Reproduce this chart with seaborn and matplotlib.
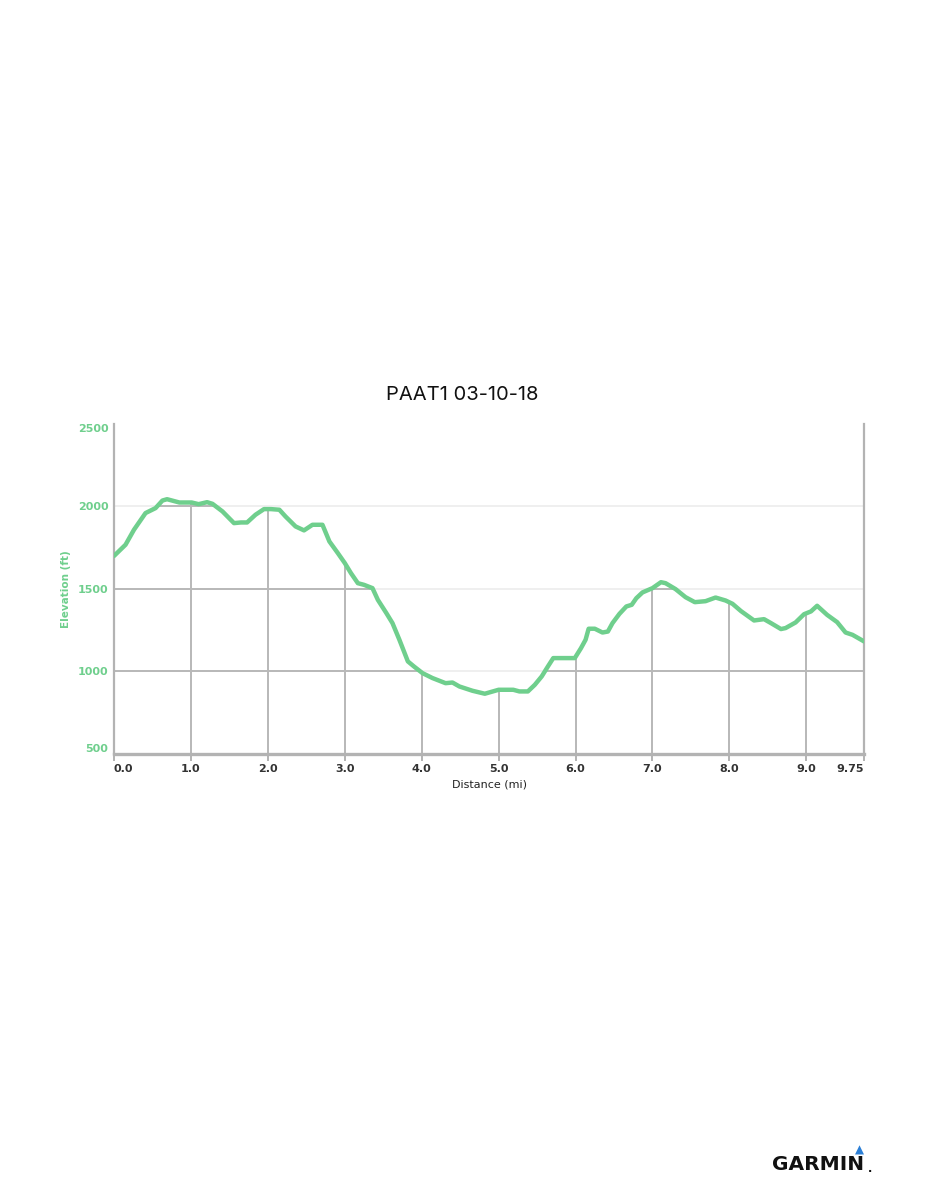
import matplotlib
matplotlib.use("Agg")
import matplotlib.pyplot as plt
import numpy as np
import pandas as pd
import seaborn as sns

# Elevation profile (miles, feet)
distance_mi = [
    0.00, 0.15, 0.26, 0.41, 0.54, 0.63, 0.69, 0.85, 1.01, 1.10, 1.21, 1.28,
    1.41, 1.56, 1.65, 1.73, 1.84, 1.95, 2.04, 2.15, 2.23, 2.36, 2.47, 2.58,
    2.71, 2.80, 2.91, 3.00, 3.08, 3.17, 3.25, 3.36, 3.43, 3.54, 3.62, 3.71,
    3.82, 3.90, 4.01, 4.14, 4.31, 4.40, 4.49, 4.66, 4.82, 4.88, 5.00, 5.19,
    5.27, 5.38, 5.47, 5.56, 5.64, 5.71, 5.99, 6.07, 6.13, 6.17, 6.25, 6.35,
    6.42, 6.48, 6.57, 6.66, 6.73, 6.79, 6.87, 7.00, 7.11, 7.17, 7.30, 7.43,
    7.55, 7.69, 7.82, 7.95, 8.04, 8.15, 8.32, 8.45, 8.54, 8.67, 8.73, 8.86,
    8.97, 9.06, 9.14, 9.27, 9.40, 9.51, 9.60, 9.75,
]
elevation_ft = [
    1700, 1768, 1859, 1960, 1990, 2036, 2044, 2024, 2024, 2014, 2026, 2016,
    1970, 1899, 1903, 1903, 1950, 1984, 1984, 1980, 1939, 1879, 1855, 1889,
    1889, 1788, 1717, 1657, 1596, 1535, 1525, 1505, 1434, 1354, 1293, 1192,
    1061, 1030, 990, 960, 929, 933, 909, 883, 865, 873, 889, 889,
    879, 879, 919, 970, 1030, 1081, 1081, 1141, 1192, 1259, 1259, 1236,
    1242, 1293, 1349, 1394, 1404, 1444, 1479, 1505, 1541, 1535, 1499, 1450,
    1420, 1426, 1448, 1430, 1410, 1366, 1309, 1317, 1293, 1257, 1263, 1297,
    1347, 1364, 1398, 1343, 1299, 1236, 1222, 1182,
]

x_ticks = [0, 1, 2, 3, 4, 5, 6, 7, 8, 9, 9.75]
x_tick_labels = ["0.0", "1.0", "2.0", "3.0", "4.0", "5.0", "6.0", "7.0", "8.0", "9.0", "9.75"]
y_ticks = [500, 1000, 1500, 2000, 2500]

title = "PAAT1 03-10-18"
line_color = "#6fcf8d"
grid_dark = "#b8b8b8"
grid_light = "#ececec"

sns.set_theme(style="white")
plt.rcParams["font.family"] = ["DejaVu Sans"]

df = pd.DataFrame({"Distance (mi)": distance_mi, "Elevation (ft)": elevation_ft})

fig = plt.figure(figsize=(9.26, 12), dpi=100)
ax = fig.add_axes([0.1231, 0.3717, 0.8100, 0.2750])

ax.set_xlim(0, 9.75)
ax.set_ylim(500, 2500)

# light grid everywhere, darker grid only under the profile
for yv in y_ticks[1:-1]:
    ax.axhline(yv, color=grid_light, lw=1.2, zorder=0)
area = ax.fill_between(df["Distance (mi)"], df["Elevation (ft)"], 500,
                       color="none", lw=0)
clip = area.get_paths()[0]
for yv in y_ticks[1:-1]:
    ln = ax.axhline(yv, color=grid_dark, lw=1.4, zorder=1)
    ln.set_clip_path(clip, ax.transData)
for xv in x_ticks[1:-1]:
    ln = ax.axvline(xv, color=grid_dark, lw=1.4, zorder=1)
    ln.set_clip_path(clip, ax.transData)

sns.lineplot(data=df, x="Distance (mi)", y="Elevation (ft)", ax=ax,
             color=line_color, lw=3.2, zorder=3,
             solid_joinstyle="round", solid_capstyle="round")

# spines
for side in ["left", "right", "bottom"]:
    ax.spines[side].set_color("#b3b3b3")
    ax.spines[side].set_linewidth(1.6)
ax.spines["bottom"].set_linewidth(2.4)
ax.spines["top"].set_visible(False)

ax.set_xticks(x_ticks)
ax.set_xticklabels(x_tick_labels, fontsize=8, fontweight="bold", color="#333333")
ax.tick_params(axis="x", direction="out", length=5, width=1.4, color="#b3b3b3",
               pad=2, bottom=True)
ax.get_xticklabels()[0].set_ha("left")
ax.get_xticklabels()[-1].set_ha("right")

ax.set_yticks(y_ticks)
ax.set_yticklabels([str(v) for v in y_ticks], fontsize=8, fontweight="bold",
                   color=line_color)
ax.tick_params(axis="y", length=0, pad=4)
ax.get_yticklabels()[0].set_va("bottom")
ax.get_yticklabels()[-1].set_va("top")

ax.set_xlabel("Distance (mi)", fontsize=8, color="#222222", labelpad=4)
ax.set_ylabel("Elevation (ft)", fontsize=7.5, color=line_color, labelpad=5,
              fontweight="semibold")

fig.text(0.499, 0.6708, title, ha="center", va="center", fontsize=14.5,
         family=["Inter", "DejaVu Sans"], color="#111111")

# Garmin mark in the bottom right
fig.text(0.8337, 0.0292, "GARMIN", ha="left", va="center", fontsize=14.5,
         fontweight="bold", color="#111111", family=["DejaVu Sans"])
fig.text(0.9285, 0.0417, "\u25b2", ha="center", va="center", fontsize=8.5,
         color="#2b7fd6")
fig.text(0.9395, 0.0262, ".", ha="center", va="center", fontsize=8,
         color="#111111", fontweight="bold")

fig.savefig("out.png", dpi=100, facecolor="white")
